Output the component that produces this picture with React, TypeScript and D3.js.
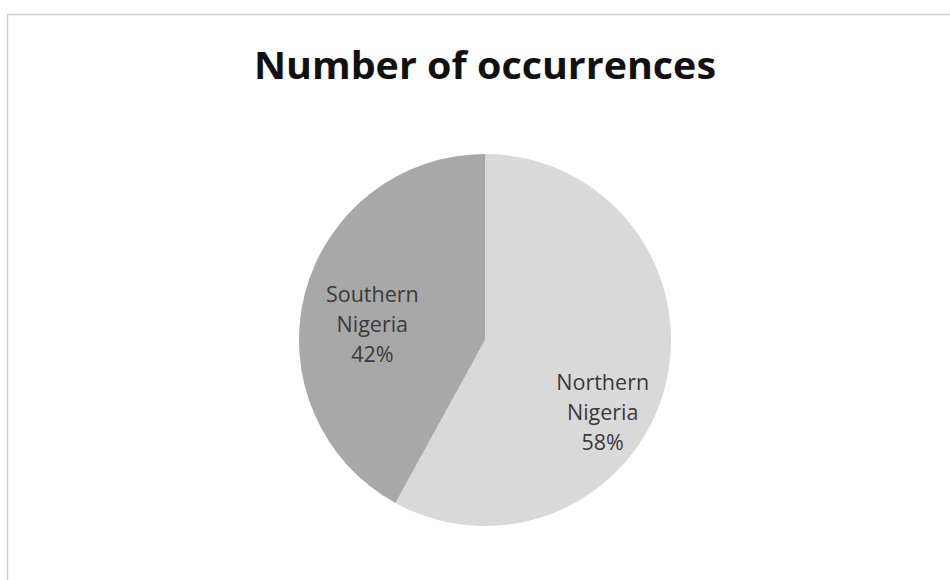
import React from "react";
import * as d3 from "d3";

const categories = ["Northern Nigeria", "Southern Nigeria"];
const values = [58, 42];
const percentLabels = ["58%", "42%"];
const colors = ["#d9d9d9", "#a8a8a8"];
const title = "Number of occurrences";

const W = 950;
const H = 580;
const cx = 485;
const cy = 340;
const R = 186;
// label placement offsets (relative to slice centroid) to mimic Excel's best-fit
const labelRadius = [0.72, 0.62];
const labelShift: [number, number][] = [[-12, 40], [-1, 14]];

export default function App() {
  const pie = d3.pie<number>().sort(null).value((d) => d)(values);
  const arc = d3.arc<d3.PieArcDatum<number>>().innerRadius(0).outerRadius(R);
  return (
    <svg
      width={W}
      height={H}
      style={{ position: "absolute", left: 0, top: 0, background: "#fff" }}
    >
      <rect x={7.5} y={14.5} width={980} height={620} fill="#fff" stroke="#cfcfcf" strokeWidth={1.5} />
      <text
        x={cx}
        y={79}
        textAnchor="middle"
        fontFamily="'Open Sans', 'Noto Sans', sans-serif"
        fontWeight={700}
        fontSize={38}
        fill="#111"
        textLength={462}
        lengthAdjust="spacingAndGlyphs"
      >
        {title}
      </text>
      <g transform={`translate(${cx},${cy})`}>
        {pie.map((p, i) => (
          <path key={i} d={arc(p) || ""} fill={colors[i]} />
        ))}
        {pie.map((p, i) => {
          const a = d3
            .arc<d3.PieArcDatum<number>>()
            .innerRadius(0)
            .outerRadius(R * labelRadius[i] * 2);
          const [x, y] = a.centroid(p);
          const lx = x + labelShift[i][0];
          const ly = y + labelShift[i][1];
          const words = categories[i].split(" ");
          const lines = [...words, percentLabels[i]];
          return (
            <text
              key={"l" + i}
              textAnchor="middle"
              fontFamily="'Open Sans', sans-serif"
              fontSize={21.5}
              fill="#3a3a3a"
            >
              {lines.map((t, j) => (
                <tspan key={j} x={lx} y={ly + (j - 1) * 30 + 7}>
                  {t}
                </tspan>
              ))}
            </text>
          );
        })}
      </g>
    </svg>
  );
}
